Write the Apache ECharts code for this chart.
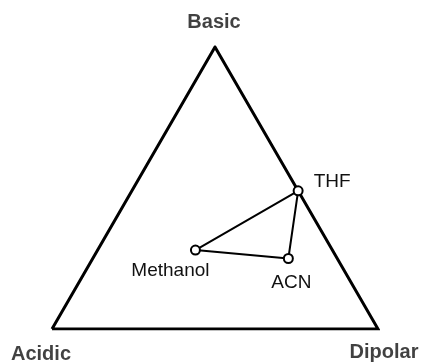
<!DOCTYPE html>
<html>
<head>
<meta charset="utf-8">
<script src="https://cdn.jsdelivr.net/npm/echarts@6/dist/echarts.min.js"></script>
<style>html,body{margin:0;padding:0;background:#fff}#c{width:423px;height:363px}</style>
</head>
<body>
<div id="c"></div>
<script>
// Ternary axes (corners)
var vertexNames = ['Acidic', 'Dipolar', 'Basic'];
// Solvents and their ternary fractions
var solvents = ['Methanol', 'ACN', 'THF'];
var acidic  = [0.42, 0.15, 0.00];
var basic   = [0.28, 0.25, 0.49];
var dipolar = [0.30, 0.60, 0.51];

var H = Math.sqrt(3) / 2;
function toXY(a, b, d) {
  var s = a + b + d;
  a /= s; b /= s; d /= s;
  return [d + b / 2, b * H];
}
var corners = [toXY(1, 0, 0), toXY(0, 0, 1), toXY(0, 1, 0)];
var pts = solvents.map(function (n, i) { return toXY(acidic[i], basic[i], dipolar[i]); });

var font = '"Liberation Sans", Arial, Helvetica, sans-serif';
var vOff = { 'Acidic': [-11, 25], 'Dipolar': [6, 23], 'Basic': [-1, -25] };
var sOff = { 'Methanol': [-25, 21], 'ACN': [3, 24], 'THF': [34, -9] };

var chart = echarts.init(document.getElementById('c'), null, { renderer: 'canvas' });
chart.setOption({
  backgroundColor: '#fff',
  animation: false,
  grid: { left: 52, right: 45, top: 47, bottom: 34 },
  xAxis: { type: 'value', min: 0, max: 1, show: false },
  yAxis: { type: 'value', min: 0, max: H, show: false },
  series: [
    {
      type: 'line',
      data: [corners[0], corners[1], corners[2], corners[0]],
      symbol: 'none',
      lineStyle: { color: '#000', width: 3, join: 'miter' },
      z: 1
    },
    {
      type: 'line',
      data: [pts[0], pts[2], pts[1], pts[0]],
      symbol: 'none',
      lineStyle: { color: '#000', width: 2 },
      z: 2
    },
    {
      type: 'scatter',
      data: pts.map(function (p, i) { return { name: solvents[i], value: p,
        label: { offset: sOff[solvents[i]] } }; }),
      symbol: 'circle',
      symbolSize: 9,
      itemStyle: { color: '#fff', borderColor: '#000', borderWidth: 2, opacity: 1 },
      label: {
        show: true, position: 'inside', formatter: '{b}',
        color: '#111', fontSize: 19, fontFamily: font,
        align: 'center', verticalAlign: 'middle'
      },
      z: 3
    },
    {
      type: 'scatter',
      data: corners.map(function (p, i) { return { name: vertexNames[i], value: p,
        label: { offset: vOff[vertexNames[i]] } }; }),
      symbolSize: 1,
      itemStyle: { color: 'rgba(0,0,0,0)' },
      label: {
        show: true, position: 'inside', formatter: '{b}',
        color: '#111', fontSize: 20, fontWeight: 'bold', fontFamily: font,
        align: 'center', verticalAlign: 'middle'
      },
      z: 4
    }
  ]
});
</script>
</body>
</html>
